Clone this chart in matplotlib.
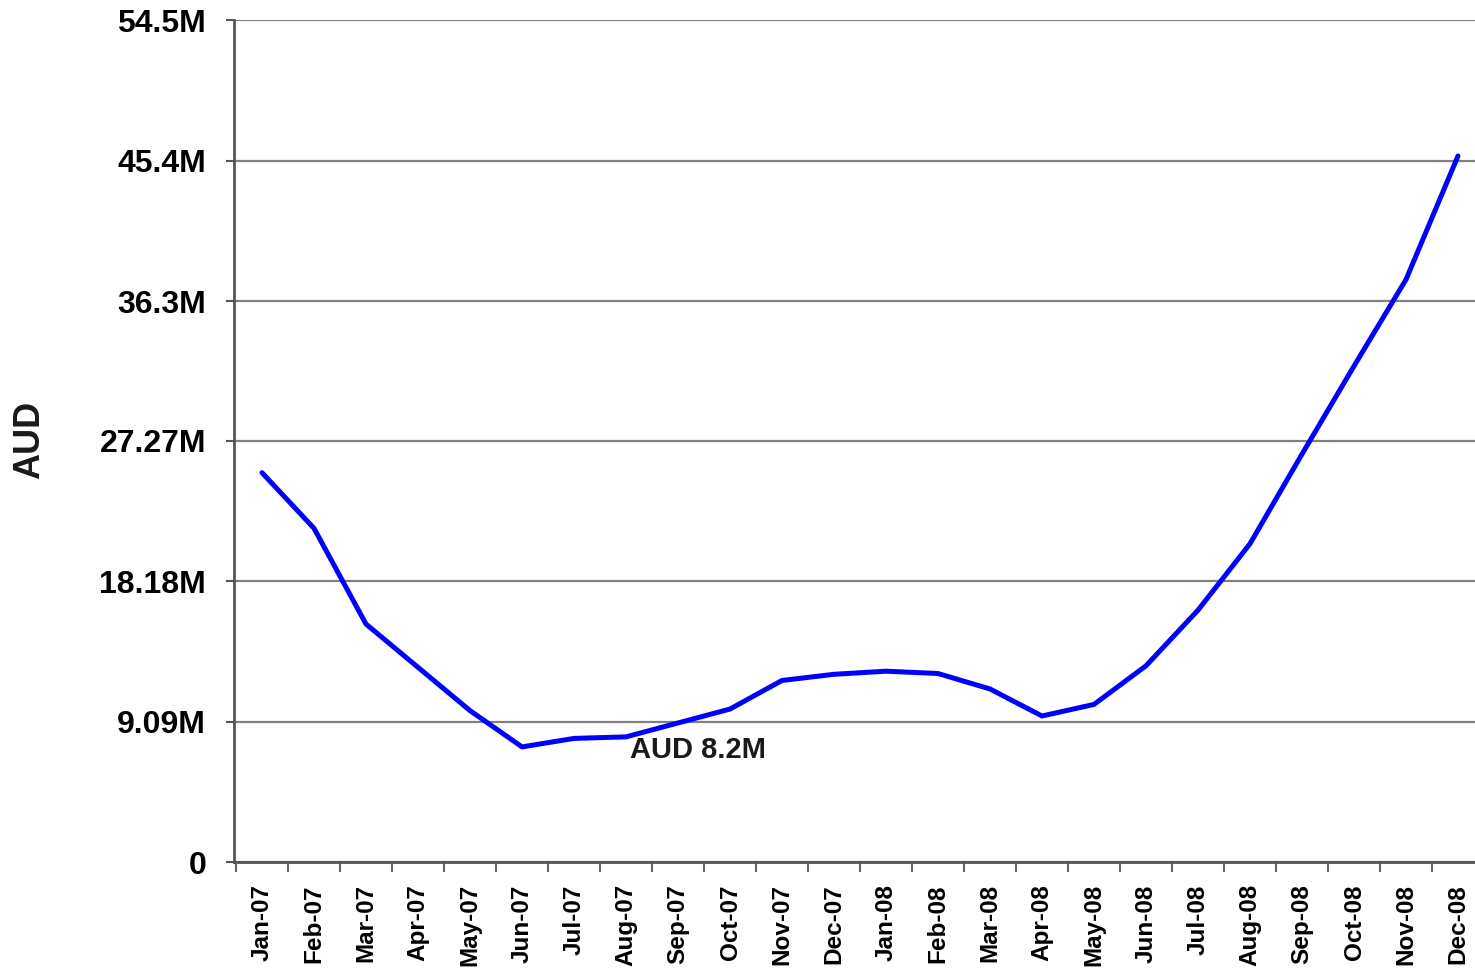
import numpy as np
import matplotlib
matplotlib.use("Agg")
import matplotlib.pyplot as plt

plt.rcParams['font.family'] = ['Liberation Sans', 'DejaVu Sans']
plt.rcParams['font.weight'] = 'bold'

# 월별 값 (단위: 백만 AUD)
months = ['Jan-07', 'Feb-07', 'Mar-07', 'Apr-07', 'May-07', 'Jun-07',
          'Jul-07', 'Aug-07', 'Sep-07', 'Oct-07', 'Nov-07', 'Dec-07',
          'Jan-08', 'Feb-08', 'Mar-08', 'Apr-08', 'May-08', 'Jun-08',
          'Jul-08', 'Aug-08', 'Sep-08', 'Oct-08', 'Nov-08', 'Dec-08']
values = [25.2, 21.6, 15.4, 12.6, 9.8, 7.45,
          8.0, 8.1, 9.0, 9.9, 11.75, 12.15,
          12.35, 12.2, 11.2, 9.45, 10.2, 12.7,
          16.3, 20.6, 26.4, 32.1, 37.7, 45.7]
y_ticks = [0, 9.09, 18.18, 27.27, 36.3, 45.4, 54.5]
y_tick_labels = ['0', '9.09M', '18.18M', '27.27M', '36.3M', '45.4M', '54.5M']
note_text = 'AUD 8.2M'
note_pos = (7.08, 7.25)

W, H = 1475, 971
fig = plt.figure(figsize=(W / 100, H / 100), dpi=100)
ax = fig.add_axes([234 / W, 1 - 862 / H, (W - 234) / W, 842 / H])

x = np.arange(len(months))
ax.plot(x, values, color='#0000FF', lw=3.6, solid_joinstyle='round',
        solid_capstyle='round', zorder=3)

ax.set_ylim(0, 54.5)
# 오른쪽 끝이 잘린 원본에 맞춤 (1칸 = 52px)
ax.set_xlim(-28 / 52, len(months) - 1 + 17 / 52)

ax.set_yticks(y_ticks)
ax.set_yticklabels(y_tick_labels, fontsize=23, fontweight='bold')
ax.grid(True, axis='y', color='#808080', lw=1.6, zorder=1)
ax.tick_params(axis='y', length=6, width=1.5, color='#555555', pad=14)

# 라벨은 가운데, 눈금선은 경계에
ax.set_xticks(x)
ax.set_xticklabels(months, rotation=90, fontsize=17.5, fontweight='bold')
ax.tick_params(axis='x', which='major', length=0, pad=16)
ax.set_xticks(np.arange(len(months)) - 0.5, minor=True)
ax.tick_params(axis='x', which='minor', length=7, width=1.5, color='#666666')

for side in ['top', 'right']:
    ax.spines[side].set_visible(False)
for side in ['left', 'bottom']:
    ax.spines[side].set_color('#555555')
    ax.spines[side].set_linewidth(2)

ax.text(note_pos[0], note_pos[1], note_text, fontsize=21, fontweight='bold',
        ha='left', va='center', color='#1a1a1a')

fig.text(30 / W, 1 - 440 / H, 'AUD', rotation=90, fontsize=26,
         fontweight='bold', ha='center', va='center', color='#1a1a1a')

fig.savefig('out.png', dpi=100)
